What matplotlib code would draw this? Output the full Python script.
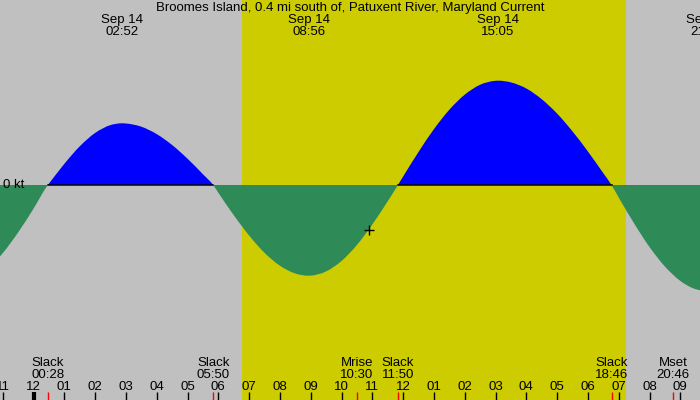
import numpy as np
import matplotlib
matplotlib.use("Agg")
from matplotlib import pyplot as plt
from matplotlib.path import Path
from matplotlib.patches import PathPatch

plt.rcParams['font.family'] = ['Liberation Sans', 'DejaVu Sans']

# Dados --------------------------------------------->>>>>
TITLE = "Broomes Island, 0.4 mi south of, Patuxent River, Maryland Current"

# horas desde a meia-noite de Sep 14, e velocidade da corrente (kt)
hours = [-1.1, -1.0, -0.5, 0.0, 0.467, 0.5, 1.0, 1.5, 2.0, 2.5, 2.867, 3.0,
         3.5, 4.0, 4.5, 5.0, 5.5, 5.833, 6.0, 6.5, 7.0, 7.5, 8.0, 8.5, 8.933,
         9.0, 9.5, 10.0, 10.5, 11.0, 11.5, 11.833, 12.0, 12.5, 13.0, 13.5,
         14.0, 14.5, 15.0, 15.083, 15.5, 16.0, 16.5, 17.0, 17.5, 18.0, 18.5,
         18.767, 19.0, 19.5, 20.0, 20.5, 21.0, 21.5, 21.7]
speed = [-0.718, -0.682, -0.475, -0.237, 0.0, 0.013, 0.211, 0.386, 0.520,
         0.599, 0.617, 0.615, 0.583, 0.509, 0.400, 0.263, 0.108, 0.0, -0.077,
         -0.301, -0.505, -0.678, -0.807, -0.885, -0.907, -0.906, -0.864,
         -0.760, -0.600, -0.395, -0.163, 0.0, 0.084, 0.330, 0.558, 0.752,
         0.903, 1.002, 1.042, 1.043, 1.026, 0.965, 0.858, 0.714, 0.536, 0.335,
         0.118, 0.0, -0.125, -0.384, -0.620, -0.815, -0.959, -1.042, -1.056]

# maximos (topo)
max_dates = ["Sep 14", "Sep 14", "Sep 14", "Sep 14"]
max_times = ["02:52", "08:56", "15:05", "21:52"]

# eventos (rodape)
event_names = ["Slack", "Slack", "Mrise", "Slack", "Slack", "Mset"]
event_times = ["00:28", "05:50", "10:30", "11:50", "18:46", "20:46"]

sunrise = "06:46"
sunset = "19:14"
now_time = "10:53"
now_speed = -0.45


def to_hours(t):
    hh, mm = t.split(":")
    return int(hh) + int(mm) / 60.0


hours = np.array(hours)
speed = np.array(speed)

# Cores ----------------------------->>>>>
NIGHT = "#c0c0c0"
DAY = "#cccc00"
FLOOD = "#0000ff"
EBB = "#2e8b57"
FS = 9.5

fig = plt.figure(figsize=(7, 4), dpi=100, facecolor=NIGHT)
ax = fig.add_axes([0, 0, 1, 1])
ax.set_facecolor(NIGHT)
ax.set_xlim(-33.5 / 30.8, (700 - 33.5) / 30.8)
ax.set_ylim(-2.15, 1.85)
ax.set_xticks([])
ax.set_yticks([])
for s in ax.spines.values():
    s.set_visible(False)

# Dia
ax.axvspan(to_hours(sunrise), to_hours(sunset), color=DAY, lw=0, zorder=0)

# Tangentes para desenhar a curva suave (Bezier) pelos pontos lidos
dx = np.diff(hours)
sl = np.diff(speed) / dx
tang = np.empty_like(speed)
tang[0] = sl[0]
tang[-1] = sl[-1]
tang[1:-1] = (sl[:-1] * dx[1:] + sl[1:] * dx[:-1]) / (dx[:-1] + dx[1:])

# Separar em trechos entre os "slack" (velocidade zero)
cuts = [0] + [i for i in range(1, len(speed) - 1) if speed[i] == 0] + [len(speed) - 1]
for a, b in zip(cuts[:-1], cuts[1:]):
    verts = [(hours[a], 0.0), (hours[a], speed[a])]
    codes = [Path.MOVETO, Path.LINETO]
    for i in range(a, b):
        d = hours[i + 1] - hours[i]
        verts += [(hours[i] + d / 3, speed[i] + tang[i] * d / 3),
                  (hours[i + 1] - d / 3, speed[i + 1] - tang[i + 1] * d / 3),
                  (hours[i + 1], speed[i + 1])]
        codes += [Path.CURVE4] * 3
    verts += [(hours[b], 0.0), (hours[a], 0.0)]
    codes += [Path.LINETO, Path.CLOSEPOLY]
    flood = speed[a:b + 1].sum() > 0
    ax.add_patch(PathPatch(Path(verts, codes), facecolor=FLOOD if flood else EBB,
                           lw=0, zorder=2))
    if flood:
        ax.plot([hours[a], hours[b]], [0, 0], color="black", lw=1.1, zorder=3)

# "0 kt" no canto esquerdo
ax.text(0.004, 0.005, "0 kt", transform=ax.get_yaxis_transform(), fontsize=FS,
        ha="left", va="center", zorder=4)

# Agora
ax.plot(to_hours(now_time), now_speed, marker="+", color="black",
        markersize=7, mew=1, zorder=5)

trans = ax.get_xaxis_transform()

# Titulo e maximos
ax.text(0.5, 1 - 8 / 400, TITLE, transform=ax.transAxes, fontsize=FS,
        ha="center", va="center")
for d, t in zip(max_dates, max_times):
    x = to_hours(t)
    ax.text(x, 1 - 20 / 400, d, transform=trans, fontsize=FS,
            ha="center", va="center")
    ax.text(x, 1 - 32 / 400, t, transform=trans, fontsize=FS,
            ha="center", va="center")

# Eventos
for n, t in zip(event_names, event_times):
    x = to_hours(t)
    ax.text(x, 1 - 362.5 / 400, n, transform=trans, fontsize=FS,
            ha="center", va="center")
    ax.text(x, 1 - 374.5 / 400, t, transform=trans, fontsize=FS,
            ha="center", va="center")
    ax.plot([x, x], [0, 8 / 400], transform=trans, color="red", lw=1,
            zorder=6, solid_capstyle="butt")

# Marcas de hora
for h in range(-1, 22):
    lab = "%02d" % ((h % 12) or 12)
    ax.text(h, 1 - 386.5 / 400, lab, transform=trans, fontsize=FS,
            ha="center", va="center")
    ax.plot([h, h], [0, 8 / 400], transform=trans, color="black",
            lw=3 if h == 0 else 1, zorder=6, solid_capstyle="butt")

fig.savefig("out.png", dpi=100, facecolor=NIGHT)
